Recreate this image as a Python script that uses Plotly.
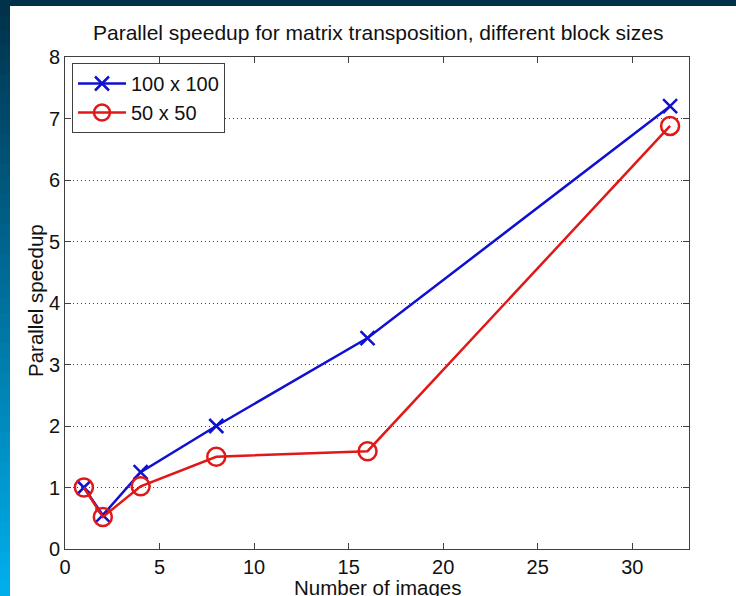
import plotly.graph_objects as go

# ---- data ----
images = [1, 2, 4, 8, 16, 32]
speedup_100 = [1.0, 0.55, 1.25, 2.0, 3.43, 7.2]
speedup_50 = [1.0, 0.52, 1.02, 1.5, 1.59, 6.88]
x_ticks = [0, 5, 10, 15, 20, 25, 30]
y_ticks = [0, 1, 2, 3, 4, 5, 6, 7, 8]

W, H = 736, 596
L, R, T, B = 65, 689, 57, 549
pw, ph = R - L, B - T

def px(x):
    return (x - L) / pw

def py(y):
    return (B - y) / ph

FONT = "Liberation Sans, Arial, Helvetica, sans-serif"
AX = "#404040"

fig = go.Figure()
fig.add_trace(go.Scatter(
    x=images, y=speedup_100, mode="lines+markers", name="100 x 100",
    line=dict(color="#1010d0", width=2.5),
    marker=dict(symbol="x-thin", size=14, line=dict(color="#1010d0", width=2.5)),
))
fig.add_trace(go.Scatter(
    x=images, y=speedup_50, mode="lines+markers", name="50 x 50",
    line=dict(color="#e01818", width=2.5),
    marker=dict(symbol="circle-open", size=18, color="#e01818", line=dict(width=2.5)),
))

# decorative frame (dark top band and left gradient band)
shapes = [dict(type="rect", xref="paper", yref="paper", x0=px(0), x1=px(W),
               y0=py(6), y1=py(0), fillcolor="#00304a", line=dict(width=0), layer="above")]
c0 = (0x00, 0x30, 0x4a)
c1 = (0x00, 0xb0, 0xee)
n = 40
for i in range(n):
    t = (i + 0.5) / n
    c = tuple(int(round(a + (b - a) * t)) for a, b in zip(c0, c1))
    y0 = H * i / n
    y1 = H * (i + 1) / n + 1
    shapes.append(dict(type="rect", xref="paper", yref="paper", x0=px(0), x1=px(10),
                       y0=py(y1), y1=py(y0), fillcolor="rgb(%d,%d,%d)" % c,
                       line=dict(width=0), layer="above"))

fig.update_layout(
    width=W, height=H,
    margin=dict(l=L, r=W - R, t=T, b=H - B, pad=0),
    paper_bgcolor="white", plot_bgcolor="white",
    font=dict(family=FONT, size=20, color="#111111"),
    showlegend=True,
    legend=dict(x=px(72), y=py(63), xanchor="left", yanchor="top",
                bordercolor=AX, borderwidth=1, bgcolor="white",
                font=dict(family=FONT, size=20), itemwidth=48,
                tracegroupgap=0),
    shapes=shapes,
    annotations=[
        dict(text="Parallel speedup for matrix transposition, different block sizes",
             xref="paper", yref="paper", x=px(378), y=py(33), showarrow=False,
             xanchor="center", yanchor="middle", font=dict(family=FONT, size=21)),
        dict(text="Number of images", xref="paper", yref="paper", x=px(377), y=py(587),
             showarrow=False, xanchor="center", yanchor="middle",
             font=dict(family=FONT, size=20.5)),
        dict(text="Parallel speedup", xref="paper", yref="paper", x=px(35), y=py(301),
             showarrow=False, xanchor="center", yanchor="middle", textangle=-90,
             font=dict(family=FONT, size=20.5)),
    ],
)
fig.update_xaxes(range=[0, 33], tickvals=x_ticks, ticks="inside", ticklen=6,
                 tickcolor=AX, showline=True, linecolor=AX, linewidth=1, mirror="ticks",
                 showgrid=False, zeroline=False, tickfont=dict(size=20))
fig.update_yaxes(range=[0, 8], tickvals=y_ticks, ticks="inside", ticklen=6,
                 tickcolor=AX, showline=True, linecolor=AX, linewidth=1, mirror="ticks",
                 showgrid=True, gridcolor="#444444", griddash="1px,3px", gridwidth=1,
                 zeroline=False, tickfont=dict(size=20))

fig.write_html("out.html", config={"displayModeBar": False},
               post_script="document.body.style.margin='0px';")
